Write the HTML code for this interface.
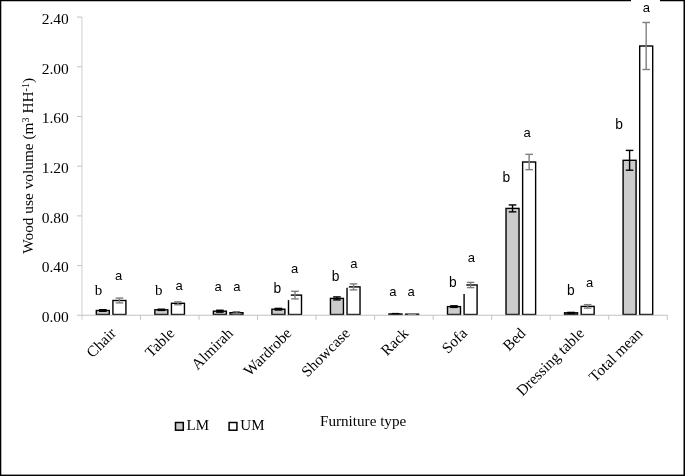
<!DOCTYPE html><html><head><meta charset="utf-8"><style>html,body{margin:0;padding:0;background:#fff;}svg{display:block;will-change:transform}</style></head><body>
<svg width="685" height="476" viewBox="0 0 685 476">
<rect x="0" y="0" width="685" height="476" fill="#fff"/>
<rect x="96.31" y="310.50" width="13.0" height="4.00" fill="#cccccc" stroke="#000" stroke-width="1.4"/>
<rect x="112.92" y="300.50" width="13.0" height="14.00" fill="#fff" stroke="#000" stroke-width="1.4"/>
<rect x="154.84" y="309.80" width="13.0" height="4.70" fill="#cccccc" stroke="#000" stroke-width="1.4"/>
<rect x="171.44" y="303.30" width="13.0" height="11.20" fill="#fff" stroke="#000" stroke-width="1.4"/>
<rect x="213.37" y="311.20" width="13.0" height="3.30" fill="#cccccc" stroke="#000" stroke-width="1.4"/>
<rect x="229.97" y="312.70" width="13.0" height="1.80" fill="#fff" stroke="#000" stroke-width="1.4"/>
<rect x="271.91" y="309.20" width="13.0" height="5.30" fill="#cccccc" stroke="#000" stroke-width="1.4"/>
<rect x="288.50" y="295.10" width="13.0" height="19.40" fill="#fff" stroke="#000" stroke-width="1.4"/>
<rect x="330.44" y="298.40" width="13.0" height="16.10" fill="#cccccc" stroke="#000" stroke-width="1.4"/>
<rect x="347.03" y="286.90" width="13.0" height="27.60" fill="#fff" stroke="#000" stroke-width="1.4"/>
<rect x="388.97" y="314.00" width="13.0" height="0.50" fill="#cccccc" stroke="#000" stroke-width="1.4"/>
<rect x="405.56" y="314.20" width="13.0" height="0.30" fill="#fff" stroke="#000" stroke-width="1.4"/>
<rect x="447.50" y="306.60" width="13.0" height="7.90" fill="#cccccc" stroke="#000" stroke-width="1.4"/>
<rect x="464.09" y="285.00" width="13.0" height="29.50" fill="#fff" stroke="#000" stroke-width="1.4"/>
<rect x="506.03" y="208.40" width="13.0" height="106.10" fill="#cccccc" stroke="#000" stroke-width="1.4"/>
<rect x="522.63" y="162.00" width="13.0" height="152.50" fill="#fff" stroke="#000" stroke-width="1.4"/>
<rect x="564.56" y="312.80" width="13.0" height="1.70" fill="#cccccc" stroke="#000" stroke-width="1.4"/>
<rect x="581.16" y="306.40" width="13.0" height="8.10" fill="#fff" stroke="#000" stroke-width="1.4"/>
<rect x="623.09" y="160.30" width="13.0" height="154.20" fill="#cccccc" stroke="#000" stroke-width="1.4"/>
<rect x="639.69" y="46.00" width="13.0" height="268.50" fill="#fff" stroke="#000" stroke-width="1.4"/>
<g stroke="#000" stroke-width="1.4"><line x1="102.81" y1="309.70" x2="102.81" y2="311.30"/><line x1="99.02" y1="309.70" x2="106.61" y2="309.70"/><line x1="99.02" y1="311.30" x2="106.61" y2="311.30"/></g>
<g stroke="#7f7f7f" stroke-width="1.4"><line x1="119.42" y1="298.10" x2="119.42" y2="302.90"/><line x1="115.62" y1="298.10" x2="123.22" y2="298.10"/><line x1="115.62" y1="302.90" x2="123.22" y2="302.90"/></g>
<g stroke="#000" stroke-width="1.4"><line x1="161.34" y1="309.20" x2="161.34" y2="310.40"/><line x1="157.54" y1="309.20" x2="165.15" y2="309.20"/><line x1="157.54" y1="310.40" x2="165.15" y2="310.40"/></g>
<g stroke="#7f7f7f" stroke-width="1.4"><line x1="177.94" y1="301.85" x2="177.94" y2="304.75"/><line x1="174.14" y1="301.85" x2="181.75" y2="301.85"/><line x1="174.14" y1="304.75" x2="181.75" y2="304.75"/></g>
<g stroke="#000" stroke-width="1.4"><line x1="219.87" y1="310.25" x2="219.87" y2="312.15"/><line x1="216.07" y1="310.25" x2="223.67" y2="310.25"/><line x1="216.07" y1="312.15" x2="223.67" y2="312.15"/></g>
<g stroke="#7f7f7f" stroke-width="1.4"><line x1="236.47" y1="311.70" x2="236.47" y2="313.70"/><line x1="232.67" y1="311.70" x2="240.27" y2="311.70"/><line x1="232.67" y1="313.70" x2="240.27" y2="313.70"/></g>
<g stroke="#000" stroke-width="1.4"><line x1="278.41" y1="308.40" x2="278.41" y2="310.00"/><line x1="274.61" y1="308.40" x2="282.21" y2="308.40"/><line x1="274.61" y1="310.00" x2="282.21" y2="310.00"/></g>
<g stroke="#7f7f7f" stroke-width="1.4"><line x1="295.00" y1="291.30" x2="295.00" y2="298.90"/><line x1="291.20" y1="291.30" x2="298.81" y2="291.30"/><line x1="291.20" y1="298.90" x2="298.81" y2="298.90"/></g>
<g stroke="#000" stroke-width="1.4"><line x1="336.94" y1="296.90" x2="336.94" y2="299.90"/><line x1="333.13" y1="296.90" x2="340.74" y2="296.90"/><line x1="333.13" y1="299.90" x2="340.74" y2="299.90"/></g>
<g stroke="#7f7f7f" stroke-width="1.4"><line x1="353.53" y1="283.90" x2="353.53" y2="289.90"/><line x1="349.73" y1="283.90" x2="357.33" y2="283.90"/><line x1="349.73" y1="289.90" x2="357.33" y2="289.90"/></g>
<g stroke="#000" stroke-width="1.4"><line x1="395.47" y1="313.60" x2="395.47" y2="314.40"/><line x1="391.67" y1="313.60" x2="399.27" y2="313.60"/><line x1="391.67" y1="314.40" x2="399.27" y2="314.40"/></g>
<g stroke="#7f7f7f" stroke-width="1.4"><line x1="412.06" y1="314.00" x2="412.06" y2="314.70"/><line x1="408.26" y1="314.00" x2="415.87" y2="314.00"/><line x1="408.26" y1="314.70" x2="415.87" y2="314.70"/></g>
<g stroke="#000" stroke-width="1.4"><line x1="454.00" y1="305.80" x2="454.00" y2="307.40"/><line x1="450.19" y1="305.80" x2="457.80" y2="305.80"/><line x1="450.19" y1="307.40" x2="457.80" y2="307.40"/></g>
<g stroke="#7f7f7f" stroke-width="1.4"><line x1="470.59" y1="282.40" x2="470.59" y2="287.60"/><line x1="466.79" y1="282.40" x2="474.39" y2="282.40"/><line x1="466.79" y1="287.60" x2="474.39" y2="287.60"/></g>
<g stroke="#000" stroke-width="1.4"><line x1="512.53" y1="204.95" x2="512.53" y2="211.85"/><line x1="508.73" y1="204.95" x2="516.33" y2="204.95"/><line x1="508.73" y1="211.85" x2="516.33" y2="211.85"/></g>
<g stroke="#7f7f7f" stroke-width="1.4"><line x1="529.13" y1="154.35" x2="529.13" y2="169.65"/><line x1="525.33" y1="154.35" x2="532.93" y2="154.35"/><line x1="525.33" y1="169.65" x2="532.93" y2="169.65"/></g>
<g stroke="#000" stroke-width="1.4"><line x1="571.06" y1="312.40" x2="571.06" y2="313.20"/><line x1="567.26" y1="312.40" x2="574.86" y2="312.40"/><line x1="567.26" y1="313.20" x2="574.86" y2="313.20"/></g>
<g stroke="#7f7f7f" stroke-width="1.4"><line x1="587.66" y1="304.65" x2="587.66" y2="308.15"/><line x1="583.86" y1="304.65" x2="591.46" y2="304.65"/><line x1="583.86" y1="308.15" x2="591.46" y2="308.15"/></g>
<g stroke="#000" stroke-width="1.4"><line x1="629.59" y1="150.40" x2="629.59" y2="170.20"/><line x1="625.79" y1="150.40" x2="633.38" y2="150.40"/><line x1="625.79" y1="170.20" x2="633.38" y2="170.20"/></g>
<g stroke="#7f7f7f" stroke-width="1.4"><line x1="646.19" y1="22.50" x2="646.19" y2="69.50"/><line x1="642.39" y1="22.50" x2="649.99" y2="22.50"/><line x1="642.39" y1="69.50" x2="649.99" y2="69.50"/></g>
<line x1="81.95" y1="17.05" x2="81.95" y2="319.8" stroke="#d0d0d0" stroke-width="1"/>
<g stroke="#c2c2c2" stroke-width="1" fill="none">
<line x1="77" y1="17.05" x2="82" y2="17.05"/>
<line x1="77" y1="66.76" x2="82" y2="66.76"/>
<line x1="77" y1="116.47" x2="82" y2="116.47"/>
<line x1="77" y1="166.18" x2="82" y2="166.18"/>
<line x1="77" y1="215.89" x2="82" y2="215.89"/>
<line x1="77" y1="265.60" x2="82" y2="265.60"/>
<line x1="77" y1="315.25" x2="667.65" y2="315.25"/>
<line x1="140.48" y1="315.25" x2="140.48" y2="319.8"/>
<line x1="199.01" y1="315.25" x2="199.01" y2="319.8"/>
<line x1="257.54" y1="315.25" x2="257.54" y2="319.8"/>
<line x1="316.07" y1="315.25" x2="316.07" y2="319.8"/>
<line x1="374.60" y1="315.25" x2="374.60" y2="319.8"/>
<line x1="433.13" y1="315.25" x2="433.13" y2="319.8"/>
<line x1="491.66" y1="315.25" x2="491.66" y2="319.8"/>
<line x1="550.19" y1="315.25" x2="550.19" y2="319.8"/>
<line x1="608.72" y1="315.25" x2="608.72" y2="319.8"/>
<line x1="667.25" y1="315.25" x2="667.25" y2="319.8"/>
</g>
<rect x="266" y="283" width="24.8" height="17.1" fill="#fff"/>
<rect x="326" y="271" width="22.9" height="16.8" fill="#fff"/>
<rect x="444" y="277" width="22.3" height="17.0" fill="#fff"/>
<g font-family="Liberation Serif" font-size="15.5" fill="#000" text-anchor="end">
<text x="68.8" y="23.90">2.40</text>
<text x="68.8" y="73.56">2.00</text>
<text x="68.8" y="123.22">1.60</text>
<text x="68.8" y="172.88">1.20</text>
<text x="68.8" y="222.53">0.80</text>
<text x="68.8" y="272.19">0.40</text>
<text x="68.8" y="321.85">0.00</text>
</g>
<text font-family="Liberation Serif" font-size="15.35" fill="#000" text-anchor="middle" transform="translate(33.2,165.85) rotate(-90)">Wood use volume (m<tspan font-size="10" dy="-4.6">3</tspan><tspan dy="4.6"> HH</tspan><tspan font-size="10" dy="-4.6">-1</tspan><tspan dy="4.6">)</tspan></text>
<g font-family="Liberation Serif" font-size="15.4" fill="#000" text-anchor="end">
<text transform="translate(116.81,334.2) rotate(-45)">Chair</text>
<text transform="translate(175.34,334.2) rotate(-45)">Table</text>
<text transform="translate(233.87,334.2) rotate(-45)">Almirah</text>
<text transform="translate(292.41,334.2) rotate(-45)">Wardrobe</text>
<text transform="translate(350.94,334.2) rotate(-45)">Showcase</text>
<text transform="translate(409.47,334.2) rotate(-45)">Rack</text>
<text transform="translate(468.00,334.2) rotate(-45)">Sofa</text>
<text transform="translate(526.53,334.2) rotate(-45)">Bed</text>
<text transform="translate(585.06,334.2) rotate(-45)">Dressing table</text>
<text transform="translate(643.59,334.2) rotate(-45)">Total mean</text>
</g>
<text x="94.80" y="294.80" font-family="Liberation Serif" font-size="15">b</text>
<text x="115.10" y="280.40" font-family="Liberation Sans" font-size="13">a</text>
<text x="155.00" y="294.70" font-family="Liberation Serif" font-size="15">b</text>
<text x="175.40" y="289.60" font-family="Liberation Sans" font-size="13">a</text>
<text x="214.60" y="290.50" font-family="Liberation Sans" font-size="13">a</text>
<text x="233.20" y="291.30" font-family="Liberation Sans" font-size="13">a</text>
<text x="273.50" y="292.50" font-family="Liberation Sans" font-size="13.8">b</text>
<text x="291.10" y="272.70" font-family="Liberation Sans" font-size="13">a</text>
<text x="331.80" y="280.60" font-family="Liberation Sans" font-size="13.8">b</text>
<text x="350.20" y="268.40" font-family="Liberation Sans" font-size="13">a</text>
<text x="389.30" y="295.90" font-family="Liberation Sans" font-size="13">a</text>
<text x="407.60" y="295.90" font-family="Liberation Sans" font-size="13">a</text>
<text x="449.10" y="286.70" font-family="Liberation Sans" font-size="13.8">b</text>
<text x="467.80" y="261.60" font-family="Liberation Sans" font-size="13">a</text>
<text x="502.50" y="182.00" font-family="Liberation Sans" font-size="13.8">b</text>
<text x="523.50" y="136.50" font-family="Liberation Sans" font-size="13">a</text>
<text x="567.10" y="294.60" font-family="Liberation Sans" font-size="13.8">b</text>
<text x="585.90" y="287.00" font-family="Liberation Sans" font-size="13">a</text>
<text x="615.20" y="128.60" font-family="Liberation Sans" font-size="13.8">b</text>
<rect x="175.5" y="422.5" width="7.8" height="7.7" fill="#cccccc" stroke="#000" stroke-width="1.5"/>
<text x="186.5" y="430" font-family="Liberation Serif" font-size="15">LM</text>
<rect x="229.1" y="422.5" width="7.8" height="7.7" fill="#fff" stroke="#000" stroke-width="1.5"/>
<text x="240.3" y="430" font-family="Liberation Serif" font-size="15">UM</text>
<text x="320" y="426.3" font-family="Liberation Serif" font-size="15.15">Furniture type</text>
<rect x="0" y="0" width="685" height="1.25" fill="#000"/>
<rect x="0" y="0" width="1.3" height="476" fill="#000"/>
<rect x="683.5" y="0" width="1.5" height="476" fill="#000"/>
<rect x="0" y="474.6" width="685" height="1.4" fill="#000"/>
<rect x="631" y="0" width="29" height="19" fill="#fff"/>
<text x="642.8" y="11.9" font-family="Liberation Sans" font-size="13">a</text>
</svg></body></html>
